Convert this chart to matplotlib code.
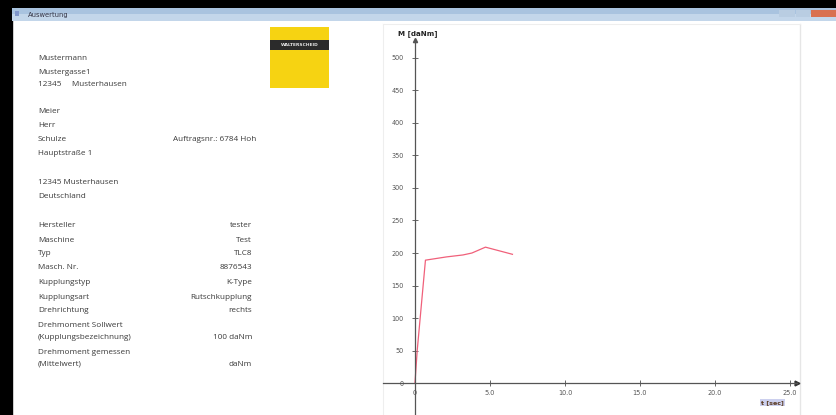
import matplotlib
matplotlib.use("Agg")
import matplotlib.pyplot as plt
from matplotlib.patches import Rectangle

# measured torque curve (time in s, torque in daNm)
t_sec = [0.0, 0.15, 0.7, 2.1, 3.2, 3.8, 4.7, 6.5]
torque = [0, 50, 189, 194, 197, 200, 209, 198]

x_ticks = [0, 5, 10, 15, 20, 25]
x_tick_labels = ["0", "5.0", "10.0", "15.0", "20.0", "25.0"]
y_ticks = [0, 50, 100, 150, 200, 250, 300, 350, 400, 450, 500]
y_tick_labels = [str(v) for v in y_ticks]

address_lines = ["Mustermann", "Mustergasse1", "12345     Musterhausen"]
customer_lines = ["Meier", "Herr", "Schulze", "Hauptstraße 1", "", "12345 Musterhausen", "Deutschland"]
order_text = "Auftragsnr.: 6784 Hoh"

info_keys = ["Hersteller", "Maschine", "Typ", "Masch. Nr.", "Kupplungstyp", "Kupplungsart",
             "Drehrichtung", "Drehmoment Sollwert", "(Kupplungsbezeichnung)",
             "Drehmoment gemessen", "(Mittelwert)"]
info_vals = ["tester", "Test", "TLC8", "8876543", "K-Type", "Rutschkupplung",
             "rechts", "", "100 daNm", "", "daNm"]

W, H = 837, 415
fig = plt.figure(figsize=(W / 100, H / 100), dpi=100, facecolor="white")

# background layer in pixel coordinates (window frame, text, logo)
bg = fig.add_axes([0, 0, 1, 1], zorder=0)
bg.set_xlim(0, W)
bg.set_ylim(H, 0)
bg.axis("off")

bg.add_patch(Rectangle((0, 0), W, 8, color="black"))
bg.add_patch(Rectangle((0, 0), 12, H, color="black"))
bg.add_patch(Rectangle((12, 8), W - 12, 6, color="#a9c3df", lw=0))
bg.add_patch(Rectangle((12, 14), W - 12, 7, color="#c3d6ea", lw=0))
bg.add_patch(Rectangle((15, 11), 4, 5, color="#7f95c9", lw=0))
bg.text(28, 14.5, "Auswertung", fontsize=4.9, color="#333344", va="center")
# window buttons
bg.add_patch(Rectangle((779, 10), 16, 7, color="#b9cde2", lw=0))
bg.add_patch(Rectangle((796, 10), 14, 7, color="#b9cde2", lw=0))
bg.add_patch(Rectangle((811, 10), 26, 7, color="#d9704f", lw=0))
bg.plot([800, 800], [24, H], color="#e6e6e6", lw=1)
bg.plot([383, 800], [24, 24], color="#eeeeee", lw=0.8)
bg.plot([383, 383], [24, H], color="#eeeeee", lw=0.8)

# logo
bg.add_patch(Rectangle((270, 27), 59, 61, color="#f6d312", lw=0))
bg.add_patch(Rectangle((270, 40), 59, 10, color="#2b2b2b", lw=0))
bg.text(299.5, 45, "WALTERSCHEID", fontsize=3.2, color="#e8e8e8", ha="center",
        va="center", fontweight="bold")

txt_kw = dict(fontsize=5.9, color="#3a3a3a", va="center", family="Open Sans")
for i, line in enumerate(address_lines):
    bg.text(38, 59 + i * 13, line, **txt_kw)
for i, line in enumerate(customer_lines):
    bg.text(38, 111 + i * 14.3, line, **txt_kw)
bg.text(173, 139.6, order_text, **txt_kw)

key_y = [225, 240, 253, 267, 282, 297, 310, 325, 337, 352, 364]
for k, v, y in zip(info_keys, info_vals, key_y):
    bg.text(38, y, k, **txt_kw)
    if v:
        bg.text(252, y, v, ha="right", **txt_kw)

# chart
ax = fig.add_axes([383 / W, 0, (800 - 383) / W, (H - 24) / H], zorder=1)
ax.patch.set_alpha(0)
ax.set_xlim(-2.13, 25.67)
ax.set_ylim(-49, 552)
for s in ["top", "right"]:
    ax.spines[s].set_visible(False)
ax.spines["left"].set_position(("data", 0))
ax.spines["bottom"].set_position(("data", 0))
ax.spines["left"].set_bounds(-49, 528)
ax.spines["bottom"].set_bounds(-2.13, 25.5)
for s in ["left", "bottom"]:
    ax.spines[s].set_color("#555555")
    ax.spines[s].set_linewidth(0.9)

ax.set_xticks(x_ticks)
ax.set_xticklabels(x_tick_labels)
ax.set_yticks(y_ticks)
ax.set_yticklabels(y_tick_labels)
ax.tick_params(axis="both", direction="inout", length=4, width=0.7, color="#666666",
               labelsize=4.7, labelcolor="#555555")
ax.tick_params(axis="y", pad=6)
ax.tick_params(axis="x", pad=3)

ax.plot([25.5], [0], marker=">", color="#333333", markersize=3.5, clip_on=False)
ax.plot([0], [528], marker="^", color="#555555", markersize=3, clip_on=False)

ax.plot(t_sec, torque, color="#f0607a", lw=0.9)

ax.text(-1.1, 538, "M [daNm]", fontsize=5.1, color="#222222", va="center",
        fontweight="bold")
ax.text(24.6, -30, "t [sec]", fontsize=4.6, color="#5a3a20", ha="right", va="center",
        fontweight="bold", bbox=dict(boxstyle="square,pad=0.15", fc="#ccd0ee", ec="none"))

fig.savefig("out.png", dpi=100)
